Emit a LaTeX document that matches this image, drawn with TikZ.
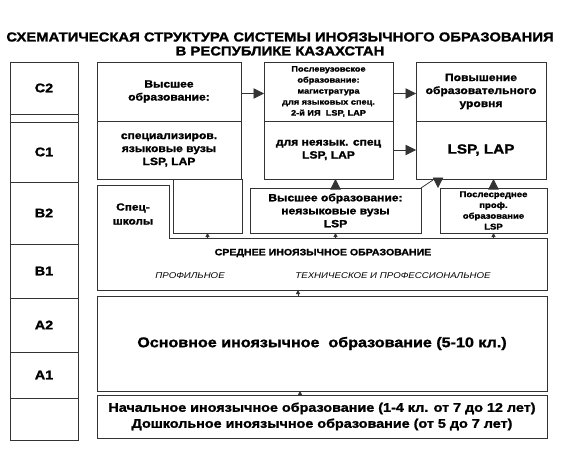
\documentclass[tikz,border=0pt]{standalone}
\usepackage{fontspec}
\setmainfont{Liberation Sans}
\newfontfamily\eduwide{Liberation Sans}[FakeStretch=1.15, BoldFeatures={FakeBold=1.5}]
\usetikzlibrary{arrows.meta,positioning,calc}
\tikzset{
  lvlcell/.style={draw=black!80, line width=0.8pt, anchor=north west, outer sep=0pt, inner sep=0pt, minimum width=68pt, font=\eduwide\bfseries\fontsize{12.5}{13}\selectfont},
  edubox/.style={draw=black!80, line width=0.8pt, anchor=north west, outer sep=0pt, inner sep=1pt, align=center, font=\eduwide\bfseries\fontsize{10.5}{13}\selectfont},
  edusmall/.style={edubox, font=\eduwide\bfseries\fontsize{8}{11}\selectfont},
  edutext/.style={align=center, inner sep=0pt},
  eduarrow/.style={-{Triangle[length=10.5pt,width=10.5pt]}, draw=black!80, line width=0.8pt},
  edutiny/.style={-{Triangle[length=4pt,width=4pt]}, draw=black!80, line width=0.5pt},
  eduline/.style={draw=black!80, line width=0.8pt}
}
\begin{document}
\begin{tikzpicture}[x=1pt, y=-1pt]
\useasboundingbox (0,0) rectangle (564,457);
\node[edutext, font=\eduwide\bfseries\fontsize{12.9}{14}\selectfont] (title) at (280,44) {СХЕМАТИЧЕСКАЯ СТРУКТУРА СИСТЕМЫ ИНОЯЗЫЧНОГО ОБРАЗОВАНИЯ\\В РЕСПУБЛИКЕ КАЗАХСТАН};
% levels
\node[lvlcell, minimum height=52pt] (c2) at (10,62) {C2};
\node[lvlcell, minimum height=60pt, below=8pt of c2] (c1) {C1};
\node[lvlcell, minimum height=62pt, below=0pt of c1] (b2) {B2};
\node[lvlcell, minimum height=54pt, below=0pt of b2] (b1) {B1};
\node[lvlcell, minimum height=54pt, below=0pt of b1] (a2) {A2};
\node[lvlcell, minimum height=46pt, below=0pt of a2] (a1) {A1};
\node[lvlcell, minimum height=42pt, below=0pt of a1] (a0) {};
\draw[eduline] (c2.south west) -- (c1.north west) (c2.south east) -- (c1.north east);
% higher education
\node[edubox, minimum width=144pt, minimum height=59pt] (hiup) at (97,62) {Высшее\\образование:};
\node[edubox, minimum width=144pt, minimum height=58pt, below=0pt of hiup] (hilow) {специализиров.\\языковые вузы\\LSP, LAP};
\node[edusmall, minimum width=129pt, minimum height=59pt, right=23pt of hiup] (pgup) {Послевузовское\\образование:\\магистратура\\для языковых спец.\\2-й ИЯ~~LSP, LAP};
\node[edubox, minimum width=129pt, minimum height=58pt, below=0pt of pgup] (pglow) {для неязык. спец\\LSP, LAP};
\node[edubox, minimum width=130pt, minimum height=59pt, right=23pt of pgup] (upup) {Повышение\\образовательного\\уровня};
\node[edubox, minimum width=130pt, minimum height=58pt, below=0pt of upup, font=\eduwide\bfseries\fontsize{13.3}{14}\selectfont] (uplow) {LSP, LAP};
\node[edubox, minimum width=69pt, minimum height=54pt] (blank) at (173,179) {};
\node[edubox, minimum width=171pt, minimum height=45pt] (vuz) at (250,188) {Высшее образование:\\неязыковые вузы\\LSP};
\node[edusmall, minimum width=107pt, minimum height=45pt, font=\eduwide\bfseries\fontsize{8.3}{10.8}\selectfont] (postsec) at (440,188) {Послесреднее\\проф.\\образование\\LSP};
% secondary
\node[anchor=north west, minimum width=72pt, minimum height=53pt, inner sep=0pt, outer sep=0pt] (spec) at (97,185) {};
\node[edutext, font=\eduwide\bfseries\fontsize{10.3}{14}\selectfont] (spect) at (133,214) {Спец-\\школы};
\node[anchor=north west, minimum width=450pt, minimum height=52pt, inner sep=0pt, outer sep=0pt] (sred) at (97,238) {};
\draw[eduline] (spec.north west) -- (spec.north east) -- (spec.south east) -- (sred.north east) -- (sred.south east) -- (sred.south west) -- cycle;
\node[edutext, font=\eduwide\bfseries\fontsize{9.2}{10}\selectfont] (sredt) at (323,253) {СРЕДНЕЕ ИНОЯЗЫЧНОЕ ОБРАЗОВАНИЕ};
\node[edutext, font=\eduwide\itshape\fontsize{8.4}{9}\selectfont] (prof) at (190,276) {ПРОФИЛЬНОЕ};
\node[edutext, font=\eduwide\itshape\fontsize{8.4}{9}\selectfont] (tech) at (393,276) {ТЕХНИЧЕСКОЕ И ПРОФЕССИОНАЛЬНОЕ};
% basic and primary
\node[edubox, minimum width=450pt, minimum height=95pt, font=\eduwide\bfseries\fontsize{14}{14}\selectfont] (basic) at (97,296) {Основное иноязычное\ \ образование (5-10 кл.)};
\node[edubox, minimum width=450pt, minimum height=43pt, font=\eduwide\bfseries\fontsize{12.5}{16}\selectfont] (prim) at (97,395) {Начальное иноязычное образование (1-4 кл. от 7 до 12 лет)\\Дошкольное иноязычное образование (от 5 до 7 лет)};
% arrows
\coordinate (dn) at (438,188);
\coordinate (dnl) at (433,180);
\draw[eduarrow] ([yshift=-2pt]hiup.east) -- ([yshift=-2pt]hiup.east -| pgup.west);
\draw[eduarrow] ([yshift=-2pt]pgup.east) -- ([yshift=-2pt]pgup.east -| upup.west);
\draw[eduarrow] (pglow.east) -- (uplow.west);
\draw[eduarrow] (vuz.north) -- (vuz.north |- pglow.south);
\draw[eduarrow] (postsec.north) -- (postsec.north |- uplow.south);
\draw[eduarrow] (uplow.south -| dn) -- (dn);
\draw[eduline] (vuz.north east) -- (dnl);
\draw[edutiny] (sred.north -| blank.south) -- (blank.south);
\draw[edutiny] (sred.north -| vuz.south) -- (vuz.south);
\draw[edutiny] (sred.north -| postsec.south) -- (postsec.south);
\draw[edutiny] ([xshift=-24pt]basic.north) -- ([xshift=-24pt]basic.north |- sred.south);
\draw[edutiny] ([xshift=-22pt]prim.north) -- ([xshift=-22pt]prim.north |- basic.south);
\end{tikzpicture}
\end{document}
